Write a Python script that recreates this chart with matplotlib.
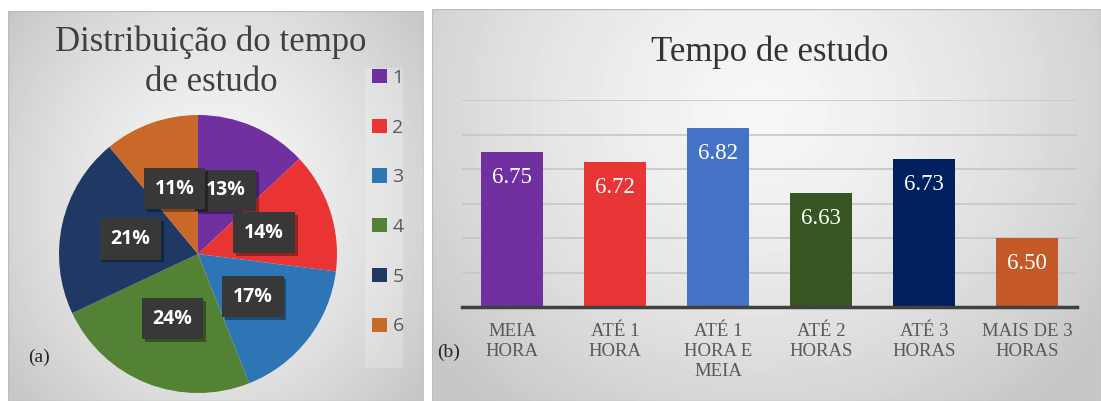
import numpy as np
import matplotlib
matplotlib.use("Agg")
import matplotlib.pyplot as plt
from matplotlib.patches import Rectangle
import matplotlib.patheffects as pe

# ---- data ----
pie_labels = ["1", "2", "3", "4", "5", "6"]
pie_shares = [13, 14, 17, 24, 21, 11]
pie_colors = ["#7030a0", "#ea3434", "#2e75b6", "#548235", "#1f3864", "#c8692a"]

bar_categories = ["MEIA\nHORA", "ATÉ 1\nHORA", "ATÉ 1\nHORA E\nMEIA",
                  "ATÉ 2\nHORAS", "ATÉ 3\nHORAS", "MAIS DE 3\nHORAS"]
bar_values = [6.75, 6.72, 6.82, 6.63, 6.73, 6.50]
bar_colors = ["#7030a0", "#e83535", "#4472c4", "#375623", "#002060", "#c55a28"]

W, H = 1101, 401
fig = plt.figure(figsize=(W / 100, H / 100), dpi=100)
fig.patch.set_facecolor("white")

SERIF = "Liberation Serif"
SANS = "Open Sans"


def px_rect(x0, y0, x1, y1):
    """Pixel box (origin top-left) -> figure-fraction rect."""
    return [x0 / W, 1 - y1 / H, (x1 - x0) / W, (y1 - y0) / H]


def panel(x0, y0, x1, y1, cx, cy, rx, ry):
    """Gray panel with a soft radial highlight."""
    ax = fig.add_axes(px_rect(x0, y0, x1, y1), zorder=0)
    xs = np.arange(x0, x1) + 0.5
    ys = np.arange(y0, y1) + 0.5
    X, Y = np.meshgrid(xs, ys)
    d = np.clip(np.sqrt(((X - cx) / rx) ** 2 + ((Y - cy) / ry) ** 2), 0, 1)
    light, dark = 0.965, 0.78
    g = light + (dark - light) * d ** 1.5
    ax.imshow(g, cmap="gray", vmin=0, vmax=1, extent=(0, 1, 0, 1),
              aspect="auto", interpolation="bilinear")
    ax.add_patch(Rectangle((0, 0), 1, 1, transform=ax.transAxes, fill=False,
                           ec="#bdbdbd", lw=1.0))
    ax.set_xlim(0, 1)
    ax.set_ylim(0, 1)
    ax.axis("off")
    return ax


panel(8, 11, 424, 401, 215, 200, 260, 300)
panel(432, 9, 1101, 401, 760, 110, 420, 380)

# lighter strip behind the legend
fig.patches.append(Rectangle((365 / W, 1 - 368 / H), 38 / W, 300 / H,
                             transform=fig.transFigure, fc="white",
                             alpha=0.22, ec="none", zorder=1))

# ---- (a) pie ----
cx, cy, r = 198, 254, 139
pie_ax = fig.add_axes(px_rect(cx - r, cy - r, cx + r, cy + r), zorder=2)
pie_ax.patch.set_alpha(0)
wedges, _, autotexts = pie_ax.pie(
    pie_shares, colors=pie_colors, startangle=90, counterclock=False,
    radius=1, autopct=lambda p: f"{p:.0f}%", pctdistance=0.5,
    wedgeprops=dict(linewidth=0),
    textprops=dict(color="white", fontsize=14, fontweight="bold", family=SANS))
pie_ax.set_xlim(-1, 1)
pie_ax.set_ylim(-1, 1)
for t in autotexts:
    t.set_bbox(dict(boxstyle="square,pad=0.55", fc="#383838", ec="none"))
    t.get_bbox_patch().set_path_effects(
        [pe.SimplePatchShadow(offset=(2, -2), shadow_rgbFace="k", alpha=0.35),
         pe.Normal()])

fig.text(211 / W, 1 - 51 / H, "Distribuição do tempo", ha="center",
         va="baseline", fontsize=25, family=SERIF, color="#404040")
fig.text(211 / W, 1 - 91 / H, "de estudo", ha="center",
         va="baseline", fontsize=25, family=SERIF, color="#404040")

fig.legend(wedges, pie_labels, loc="upper left",
           bbox_to_anchor=(372 / W, 1 - 69 / H), frameon=False,
           handlelength=0.75, handleheight=0.75, handletextpad=0.3,
           labelspacing=1.63, borderpad=0, borderaxespad=0,
           prop=dict(family=SANS, size=14), labelcolor="#595959")

fig.text(39 / W, 1 - 357 / H, "(a)", ha="center", va="center",
         fontsize=14, family=SERIF, color="#222222")

# ---- (b) bars ----
bar_ax = fig.add_axes(px_rect(462, 100, 1077, 307), zorder=2)
bar_ax.patch.set_alpha(0)
x = np.arange(len(bar_values))
bar_ax.bar(x, bar_values, width=0.6, color=bar_colors, zorder=3)
for xi, v in zip(x, bar_values):
    bar_ax.annotate(f"{v:.2f}", (xi, v), xytext=(0, -18.5),
                    textcoords="offset points", ha="center", va="center",
                    color="white", fontsize=16.5, family=SERIF, zorder=4)
bar_ax.set_xlim(-0.485, len(bar_values) - 0.515)
bar_ax.set_ylim(6.3, 6.9)
bar_ax.set_yticks(np.arange(6.3, 6.91, 0.1))
bar_ax.yaxis.grid(True, color="#c6c6c6", lw=1.2)
bar_ax.set_axisbelow(True)
bar_ax.tick_params(left=False, labelleft=False, bottom=False, pad=8)
bar_ax.set_xticks(x)
bar_ax.set_xticklabels(bar_categories, fontsize=13.5, family=SERIF,
                       color="#595959", linespacing=1.24)
for s in ("left", "right", "top"):
    bar_ax.spines[s].set_visible(False)
bar_ax.spines["bottom"].set_color("#404040")
bar_ax.spines["bottom"].set_linewidth(2.5)
bar_ax.spines["bottom"].set_zorder(5)

fig.text(770 / W, 1 - 61 / H, "Tempo de estudo", ha="center", va="baseline",
         fontsize=25, family=SERIF, color="#333333")
fig.text(449 / W, 1 - 352 / H, "(b)", ha="center", va="center",
         fontsize=14, family=SERIF, color="#222222")

fig.savefig("out.png", dpi=100, facecolor="white")
